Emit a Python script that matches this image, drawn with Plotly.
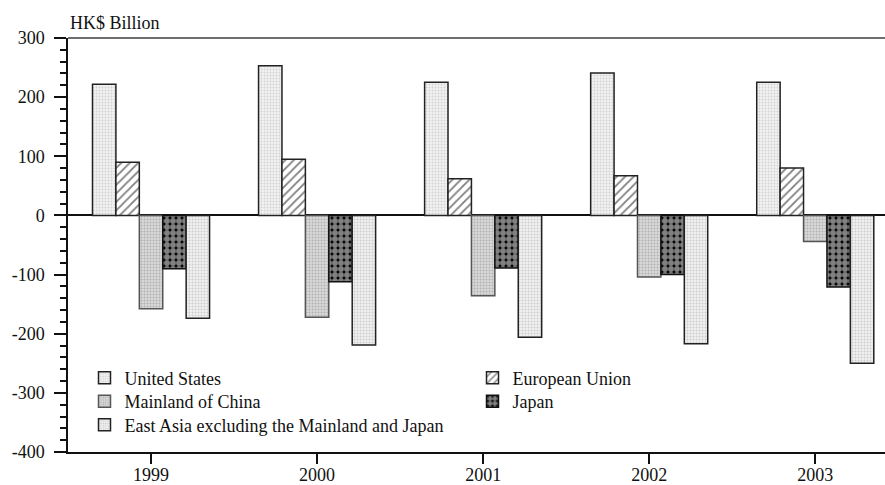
import plotly.graph_objects as go

years = ["1999", "2000", "2001", "2002", "2003"]
united_states = [222, 253, 225, 241, 225]
european_union = [90, 95, 62, 67, 80]
mainland_china = [-158, -172, -136, -104, -44]
japan = [-90, -112, -89, -100, -121]
east_asia = [-174, -219, -206, -217, -250]

y_tick_values = [300, 200, 100, 0, -100, -200, -300, -400]
y_tick_labels = ["300", "200", "100", "0", "-100", "-200", "-300", "-400"]

FONT = "Liberation Serif"
FS = 18

series = [
    ("United States", united_states, dict(shape=".", fgcolor="#b0b0b0", bgcolor="#f2f2f2", size=3, solidity=0.3), "#222", "legend"),
    ("European Union", european_union, dict(shape="/", fgcolor="#000000", bgcolor="#ffffff", size=6, solidity=0.3), "#222", "legend"),
    ("Mainland of China", mainland_china, dict(shape=".", fgcolor="#8a8a8a", bgcolor="#d8d8d8", size=3, solidity=0.35), "#555", "legend2"),
    ("Japan", japan, dict(shape=".", fgcolor="#ffffff", bgcolor="#000000", size=6, solidity=0.75), "#111", "legend2"),
    ("East Asia excluding the Mainland and Japan", east_asia, dict(shape=".", fgcolor="#a8a8a8", bgcolor="#f0f0f0", size=3, solidity=0.35), "#222", "legend3"),
]

fig = go.Figure()
for name, vals, pat, lc, lg in series:
    fig.add_trace(go.Bar(
        x=years, y=vals, name=name, legend=lg,
        marker=dict(color=pat["bgcolor"], pattern=pat, line=dict(color=lc, width=1.5)),
    ))

def legend_row(y):
    return dict(orientation="h", x=0.0202, xanchor="left", y=y, yanchor="top",
                entrywidth=343, entrywidthmode="pixels",
                bgcolor="rgba(0,0,0,0)", font=dict(size=FS, family=FONT),
                traceorder="normal")

fig.update_layout(
    width=885, height=485,
    margin=dict(l=68, r=0, t=38, b=33, autoexpand=False),
    paper_bgcolor="white", plot_bgcolor="white",
    font=dict(family=FONT, size=FS, color="#111"),
    barmode="group", bargap=0.295, bargroupgap=0,
    showlegend=True,
    legend=legend_row(0.2234),
    legend2=legend_row(0.1667),
    legend3=legend_row(0.1099),
    xaxis=dict(type="category", range=[-0.5, 4.42], showgrid=False, automargin=False,
               showline=True, linecolor="#111", linewidth=1.5,
               ticks="outside", ticklen=10, tickcolor="#111", tickwidth=1.5,
               ticklabelstandoff=-4,
               tickfont=dict(size=FS, family=FONT)),
    yaxis=dict(range=[-400, 300], tickvals=y_tick_values, ticktext=y_tick_labels,
               showgrid=False, automargin=False,
               showline=True, linecolor="#111", linewidth=1.5,
               ticks="outside", ticklen=12, tickcolor="#111", tickwidth=1.5,
               ticklabelstandoff=6,
               minor=dict(ticks="outside", ticklen=6, dtick=20, tick0=0, tickcolor="#111", tickwidth=1.5, showgrid=False),
               zeroline=True, zerolinecolor="#111", zerolinewidth=1.5,
               tickfont=dict(size=FS, family=FONT)),
    shapes=[dict(type="line", xref="paper", yref="paper", x0=0, x1=1, y0=1, y1=1,
                 line=dict(color="#6e6e6e", width=2))],
    annotations=[dict(text="HK$ Billion", xref="paper", yref="paper", x=0, y=1,
                      xanchor="left", yanchor="bottom", yshift=3, showarrow=False,
                      font=dict(size=FS, family=FONT, color="#111"))],
)

fig.write_html("out.html", config={"displayModeBar": False},
               post_script="document.body.style.margin='0';")
